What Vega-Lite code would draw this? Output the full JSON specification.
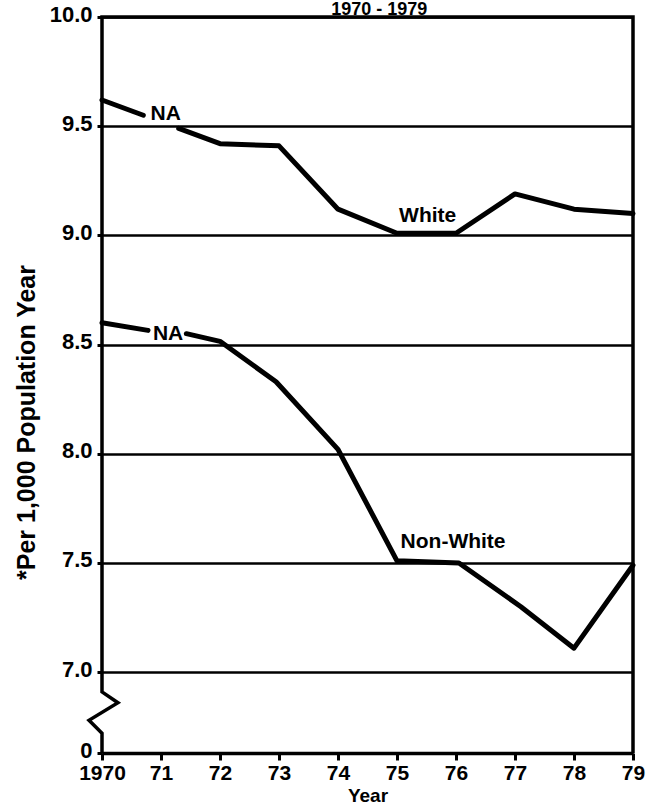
{
  "$schema": "https://vega.github.io/schema/vega-lite/v6.json",
  "width": 531,
  "height": 736,
  "autosize": "none",
  "padding": {"left": 102, "top": 17, "right": 21, "bottom": 58},
  "background": "white",
  "config": {"view": {"stroke": null}},
  "datasets": {
    "series": [
      {"group": "White", "seg": "White a", "year": 1970, "rate": 9.62},
      {"group": "White", "seg": "White a", "year": 1970.7, "rate": 9.55},
      {"group": "White", "seg": "White b", "year": 1971.3, "rate": 9.49},
      {"group": "White", "seg": "White b", "year": 1972, "rate": 9.42},
      {"group": "White", "seg": "White b", "year": 1973, "rate": 9.41},
      {"group": "White", "seg": "White b", "year": 1974, "rate": 9.12},
      {"group": "White", "seg": "White b", "year": 1975, "rate": 9.01},
      {"group": "White", "seg": "White b", "year": 1976, "rate": 9.01},
      {"group": "White", "seg": "White b", "year": 1977, "rate": 9.19},
      {"group": "White", "seg": "White b", "year": 1978, "rate": 9.12},
      {"group": "White", "seg": "White b", "year": 1979, "rate": 9.1},
      {"group": "Non-White", "seg": "Non-White a", "year": 1970, "rate": 8.6},
      {"group": "Non-White", "seg": "Non-White a", "year": 1970.78, "rate": 8.565},
      {"group": "Non-White", "seg": "Non-White b", "year": 1971.43, "rate": 8.55},
      {"group": "Non-White", "seg": "Non-White b", "year": 1972, "rate": 8.515},
      {"group": "Non-White", "seg": "Non-White b", "year": 1972.95, "rate": 8.33},
      {"group": "Non-White", "seg": "Non-White b", "year": 1974, "rate": 8.02},
      {"group": "Non-White", "seg": "Non-White b", "year": 1975, "rate": 7.51},
      {"group": "Non-White", "seg": "Non-White b", "year": 1976.05, "rate": 7.5},
      {"group": "Non-White", "seg": "Non-White b", "year": 1977.1, "rate": 7.3},
      {"group": "Non-White", "seg": "Non-White b", "year": 1978, "rate": 7.11},
      {"group": "Non-White", "seg": "Non-White b", "year": 1979, "rate": 7.49}
    ],
    "labels": [
      {"text": "NA", "year": 1971.08, "rate": 9.555},
      {"text": "NA", "year": 1971.12, "rate": 8.55},
      {"text": "White", "year": 1975.52, "rate": 9.09},
      {"text": "Non-White", "year": 1975.95, "rate": 7.595}
    ],
    "heading": [
      {"text": "1970 - 1979", "year": 1974.7, "rate": 10}
    ],
    "frame": [
      {"i": 0, "year": 1979, "rate": 6.63},
      {"i": 1, "year": 1979, "rate": 10},
      {"i": 2, "year": 1970, "rate": 10},
      {"i": 3, "year": 1970, "rate": 6.91},
      {"i": 4, "year": 1970.27, "rate": 6.86},
      {"i": 5, "year": 1969.78, "rate": 6.78},
      {"i": 6, "year": 1970, "rate": 6.72},
      {"i": 7, "year": 1970, "rate": 6.63}
    ]
  },
  "encoding": {
    "x": {
      "field": "year", "type": "quantitative",
      "scale": {"domain": [1970, 1979], "nice": false, "zero": false},
      "axis": {
        "title": "Year", "titleFont": "Liberation Sans", "titleFontSize": 19, "titleFontWeight": "bold", "titleColor": "black", "titlePadding": 3,
        "values": [1970, 1971, 1972, 1973, 1974, 1975, 1976, 1977, 1978, 1979],
        "labelExpr": "datum.value == 1970 ? '1970' : slice(toString(datum.value), 2)",
        "labelFont": "Liberation Sans", "labelFontSize": 21, "labelFontWeight": "bold", "labelColor": "black", "labelPadding": 2,
        "labelFlush": false, "labelOverlap": false,
        "domainColor": "black", "domainWidth": 3.5,
        "tickColor": "black", "tickWidth": 3, "tickSize": 7,
        "grid": false
      }
    },
    "y": {
      "field": "rate", "type": "quantitative",
      "scale": {"domain": [6.63, 10], "nice": false, "zero": false},
      "axis": {
        "title": "*Per 1,000 Population Year", "titleFont": "Liberation Sans", "titleFontSize": 25, "titleFontWeight": "bold", "titleColor": "black", "titlePadding": 10, "titleY": 405,
        "values": [6.63, 7, 7.5, 8, 8.5, 9, 9.5, 10],
        "labelExpr": "datum.value < 6.9 ? '0' : format(datum.value, '.1f')",
        "labelFont": "Liberation Sans", "labelFontSize": 22, "labelFontWeight": "bold", "labelColor": "black", "labelPadding": 5, "labelOffset": -3,
        "labelFlush": false, "labelOverlap": false,
        "domain": false,
        "tickColor": "black", "tickWidth": 3, "tickSize": 5,
        "grid": true, "gridColor": "black", "gridWidth": 2.5, "gridOpacity": 1
      }
    }
  },
  "layer": [
    {
      "data": {"name": "frame"},
      "mark": {"type": "line", "color": "black", "strokeWidth": 3.5, "strokeJoin": "miter", "clip": false},
      "encoding": {"order": {"field": "i", "type": "quantitative"}}
    },
    {
      "data": {"name": "series"},
      "mark": {"type": "line", "color": "black", "strokeWidth": 5, "strokeJoin": "round", "strokeCap": "round"},
      "encoding": {"detail": {"field": "seg", "type": "nominal"}}
    },
    {
      "data": {"name": "labels"},
      "mark": {"type": "text", "color": "black", "font": "Liberation Sans", "fontSize": 21, "fontWeight": "bold", "align": "center", "baseline": "middle"},
      "encoding": {"text": {"field": "text", "type": "nominal"}}
    },
    {
      "data": {"name": "heading"},
      "mark": {"type": "text", "color": "black", "font": "Liberation Sans", "fontSize": 18, "fontWeight": "bold", "align": "center", "baseline": "alphabetic", "dy": -2},
      "encoding": {"text": {"field": "text", "type": "nominal"}}
    }
  ]
}
